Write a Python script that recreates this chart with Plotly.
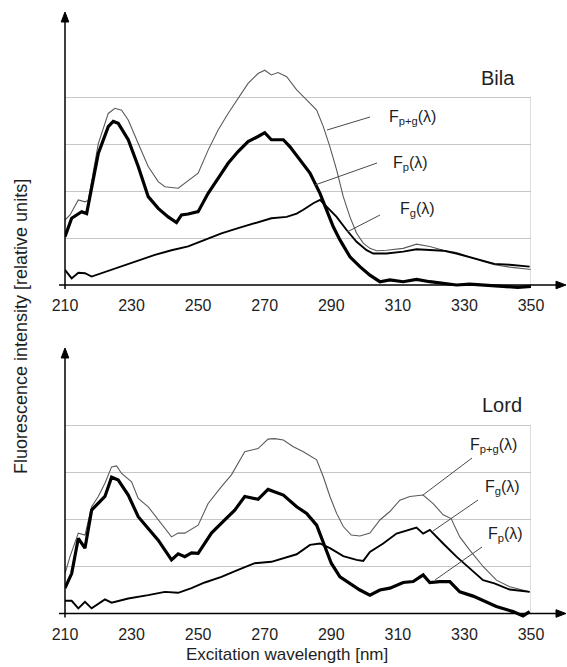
import plotly.graph_objects as go

# ---------------- data (relative units, 1 = one grid step) ----------------
x_ticks = [210, 230, 250, 270, 290, 310, 330, 350]

bila_pg_x = [210, 211.5, 214, 216, 217, 220, 223, 225, 227, 229, 232, 235, 238, 240, 244, 247, 250, 253, 256, 259,
             262, 265, 268, 270, 272, 274, 276.6, 279.6, 282.6, 285.6, 287.6, 289.6, 291.6, 293.6, 295.6, 297.6,
             299.6, 301.6, 303.6, 306.6, 311.6, 315.6, 319.6, 323.6, 327.6, 331.6, 335.6, 339, 343.6, 350]
bila_pg_y = [1.38, 1.49, 1.81, 1.77, 1.80, 3.01, 3.65, 3.76, 3.72, 3.51, 3.01, 2.52, 2.20, 2.09, 2.06, 2.23, 2.38,
             2.87, 3.30, 3.65, 3.97, 4.29, 4.50, 4.57, 4.47, 4.52, 4.43, 4.15, 3.94, 3.72, 3.37, 2.94, 2.45, 1.88,
             1.45, 1.10, 0.89, 0.78, 0.73, 0.74, 0.78, 0.87, 0.82, 0.74, 0.69, 0.59, 0.50, 0.43, 0.38, 0.33]

bila_p_x = [210, 212, 215, 216.5, 220, 223, 224.5, 226, 229, 232, 235, 238, 241, 243.5, 245, 247, 250, 253, 256,
            259, 262, 265, 268, 270, 272, 275.6, 277.6, 280.6, 283.6, 286.6, 288.6, 290.6, 292.6, 295.6, 298.6,
            301.6, 304.6, 307.6, 311.6, 315.6, 319.6, 323.6, 327.6, 331.6, 335.6, 338, 342, 346, 350]
bila_p_y = [1.03, 1.42, 1.56, 1.52, 2.80, 3.37, 3.48, 3.44, 3.09, 2.52, 1.88, 1.63, 1.45, 1.33, 1.49, 1.51, 1.56,
            1.95, 2.27, 2.59, 2.84, 3.05, 3.16, 3.24, 3.09, 3.09, 2.94, 2.66, 2.38, 1.95, 1.60, 1.24, 0.96, 0.60,
            0.39, 0.21, 0.07, 0.11, 0.07, 0.12, 0.07, 0.04, 0.00, 0.02, 0.00, -0.02, -0.04, -0.05, -0.03]

bila_g_x = [210, 212, 214, 216, 218, 222, 227, 232, 237, 242, 247, 252, 257, 262, 267, 272, 276.6, 279.6, 281.6,
            284.6, 286.6, 288.6, 291.6, 294.6, 297.6, 300.6, 302.6, 306.6, 311.6, 315.6, 319.6, 323.6, 327.6,
            331.6, 335.6, 339, 343.6, 349.6]
bila_g_y = [0.32, 0.14, 0.26, 0.25, 0.18, 0.28, 0.39, 0.53, 0.64, 0.74, 0.82, 0.96, 1.10, 1.21, 1.31, 1.42, 1.45,
            1.52, 1.60, 1.74, 1.81, 1.67, 1.45, 1.17, 0.92, 0.74, 0.67, 0.67, 0.71, 0.76, 0.75, 0.73, 0.67, 0.59,
            0.52, 0.45, 0.43, 0.39]

lord_pg_x = [210, 211.5, 214, 216, 218, 220, 222, 224, 225.5, 227, 230, 232, 235, 238, 242, 244, 246, 250, 253,
             257, 260, 264, 268, 271, 273, 275.6, 278.6, 281.6, 285.6, 287.6, 289.6, 291.6, 293.6, 296, 298.6,
             301.6, 304.6, 307.6, 310.6, 313.6, 317.6, 320.6, 323.6, 326, 328.6, 331.6, 335.6, 339.6, 343.6, 349.6]
lord_pg_y = [0.85, 1.21, 1.71, 1.67, 2.27, 2.49, 2.77, 3.12, 3.14, 2.98, 2.80, 2.45, 2.27, 1.99, 1.63, 1.71, 1.71,
             1.88, 2.34, 2.70, 2.95, 3.44, 3.51, 3.71, 3.72, 3.69, 3.55, 3.44, 3.27, 2.91, 2.49, 2.13, 1.85, 1.67,
             1.65, 1.71, 1.99, 2.17, 2.41, 2.49, 2.52, 2.34, 2.10, 2.02, 1.63, 1.35, 1.00, 0.71, 0.57, 0.46]

lord_p_x = [210, 212, 214, 216, 218, 220, 222, 224, 226, 229, 232, 235, 238, 242, 244, 246, 248, 250, 254, 258,
            261, 264, 268, 271, 273, 275.6, 279.6, 282.6, 285.6, 287.6, 290, 292.6, 295.6, 298.6, 301.6, 304.6,
            307.6, 311.6, 314.6, 317.6, 319.6, 322.6, 325.6, 328.6, 332.6, 336.6, 339.6, 344.6, 347.6, 349.6]
lord_p_y = [0.54, 0.85, 1.60, 1.39, 2.20, 2.34, 2.49, 2.90, 2.84, 2.52, 2.06, 1.81, 1.56, 1.14, 1.27, 1.21, 1.29,
            1.28, 1.71, 1.99, 2.20, 2.49, 2.43, 2.64, 2.59, 2.52, 2.27, 2.13, 1.88, 1.49, 1.07, 0.78, 0.63, 0.50,
            0.39, 0.50, 0.54, 0.66, 0.68, 0.82, 0.66, 0.68, 0.68, 0.46, 0.37, 0.25, 0.15, 0.04, -0.05, 0.04]

lord_g_x = [210, 212, 214, 216, 218, 222, 224, 229, 235, 240, 244, 248, 252, 257, 262, 267, 272, 276.6, 279.6,
            283.6, 286.6, 289.6, 293.6, 297.6, 299.6, 301.6, 305.6, 309.6, 313.6, 315.6, 317.6, 319.6, 323.6,
            327.6, 331.6, 335.6, 339, 343.6, 349.6]
lord_g_y = [0.27, 0.27, 0.11, 0.25, 0.11, 0.30, 0.23, 0.32, 0.39, 0.46, 0.44, 0.54, 0.66, 0.78, 0.93, 1.07, 1.10,
            1.20, 1.26, 1.46, 1.49, 1.39, 1.22, 1.14, 1.12, 1.31, 1.49, 1.70, 1.78, 1.83, 1.70, 1.78, 1.49, 1.21,
            0.96, 0.71, 0.64, 0.51, 0.46]

grid_vals = [1, 2, 3, 4]

# ---------------- layout geometry ----------------
W, H = 567, 667
L, R, T, B = 65, 36, 10, 46
PW, PH = W - L - R, H - T - B
UNIT = 47.0  # px per grid step


def pxx(px):
    return (px - L) / PW


def pxy(py):
    return (H - B - py) / PH


TOP_ZERO, TOP_TOP = 285.0, 10.0
BOT_ZERO, BOT_TOP = 613.5, 345.0
LOW = -0.15

FONT = "Liberation Sans, Arial, sans-serif"
TXT = "#1e1e1e"

fig = go.Figure()

thin = dict(color="#5a5a5a", width=1.1)
med = dict(color="black", width=1.9)
thick = dict(color="black", width=3.2)

fig.add_trace(go.Scatter(x=bila_pg_x, y=bila_pg_y, mode="lines", line=thin, xaxis="x", yaxis="y"))
fig.add_trace(go.Scatter(x=bila_g_x, y=bila_g_y, mode="lines", line=med, xaxis="x", yaxis="y"))
fig.add_trace(go.Scatter(x=bila_p_x, y=bila_p_y, mode="lines", line=thick, xaxis="x", yaxis="y"))
fig.add_trace(go.Scatter(x=lord_pg_x, y=lord_pg_y, mode="lines", line=thin, xaxis="x2", yaxis="y2"))
fig.add_trace(go.Scatter(x=lord_g_x, y=lord_g_y, mode="lines", line=med, xaxis="x2", yaxis="y2"))
fig.add_trace(go.Scatter(x=lord_p_x, y=lord_p_y, mode="lines", line=thick, xaxis="x2", yaxis="y2"))

xcommon = dict(range=[210, 350], tickvals=x_ticks, ticktext=[str(v) for v in x_ticks], showgrid=False,
               zeroline=False, showline=False, ticks="", ticklabelstandoff=2,
               tickfont=dict(size=16, color=TXT, family=FONT), domain=[0, 1])
ycommon = dict(tickvals=grid_vals, showticklabels=False, showgrid=True, gridcolor="#c6c6c6", gridwidth=1,
               zeroline=False, showline=False, ticks="")

fig.update_layout(
    width=W, height=H, margin=dict(l=L, r=R, t=T, b=B),
    paper_bgcolor="white", plot_bgcolor="white", showlegend=False,
    font=dict(family=FONT, color=TXT),
    xaxis=dict(anchor="y", **xcommon),
    xaxis2=dict(anchor="y2", **xcommon),
    yaxis=dict(anchor="x", range=[LOW, (TOP_ZERO - TOP_TOP) / UNIT],
               domain=[pxy(TOP_ZERO - LOW * UNIT), pxy(TOP_TOP)], **ycommon),
    yaxis2=dict(anchor="x2", range=[LOW, (BOT_ZERO - BOT_TOP) / UNIT],
                domain=[max(0, pxy(BOT_ZERO - LOW * UNIT)), pxy(BOT_TOP)], **ycommon),
)

# right border of the gridded area
for xr, yr in (("x", "y"), ("x2", "y2")):
    fig.add_shape(type="line", xref=xr, yref=yr, x0=350, x1=350, y0=0, y1=4,
                  line=dict(color="#bdbdbd", width=1))


def pline(p0, p1, color="black", width=1.5):
    fig.add_shape(type="line", xref="paper", yref="paper", x0=pxx(p0[0]), y0=pxy(p0[1]),
                  x1=pxx(p1[0]), y1=pxy(p1[1]), line=dict(color=color, width=width))


def ptri(pts):
    path = "M " + " L ".join(f"{pxx(a):.5f},{pxy(b):.5f}" for a, b in pts) + " Z"
    fig.add_shape(type="path", xref="paper", yref="paper", path=path, fillcolor="black",
                  line=dict(color="black", width=1))


# axes with arrowheads
for zero, top in ((TOP_ZERO, 12), (BOT_ZERO, 348)):
    pline((59, zero), (558, zero))
    ptri([(566, zero), (556, zero - 3.8), (556, zero + 3.8)])
    pline((L, zero + 4), (L, top + 6))
    ptri([(L, top), (L - 3.8, top + 10), (L + 3.8, top + 10)])

annotations = []


def text(px, py, s, size=16, **kw):
    d = dict(xref="paper", yref="paper", x=pxx(px), y=pxy(py), text=s, showarrow=False,
             xanchor="center", yanchor="middle", font=dict(size=size, color=TXT, family=FONT))
    d.update(kw)
    annotations.append(d)


text(498, 78, "Bila", size=20)
text(502, 405, "Lord", size=20)

text(412, 117, "F<sub>p+g</sub>(λ)")
text(410, 163, "F<sub>p</sub>(λ)")
text(417, 210, "F<sub>g</sub>(λ)")
pline((370, 117), (327, 130), color="#4a4a4a", width=1)
pline((377, 163), (315, 185), color="#4a4a4a", width=1)
pline((380, 215), (347, 232), color="#4a4a4a", width=1)

text(493, 445, "F<sub>p+g</sub>(λ)")
text(502, 487, "F<sub>g</sub>(λ)")
text(505, 534, "F<sub>p</sub>(λ)")
pline((472, 458), (423, 495), color="#4a4a4a", width=1)
pline((478, 500), (433, 531), color="#4a4a4a", width=1)
pline((482, 547), (435, 580), color="#4a4a4a", width=1)

text(21, 327, "Fluorescence intensity [relative units]", size=18, textangle=-90)
text(287, 666, "Excitation wavelength [nm]", size=17, yanchor="bottom")

fig.update_layout(annotations=annotations)

fig.write_html("out.html", config={"displayModeBar": False},
               post_script="document.body.style.margin='0';document.body.style.overflow='hidden';")
